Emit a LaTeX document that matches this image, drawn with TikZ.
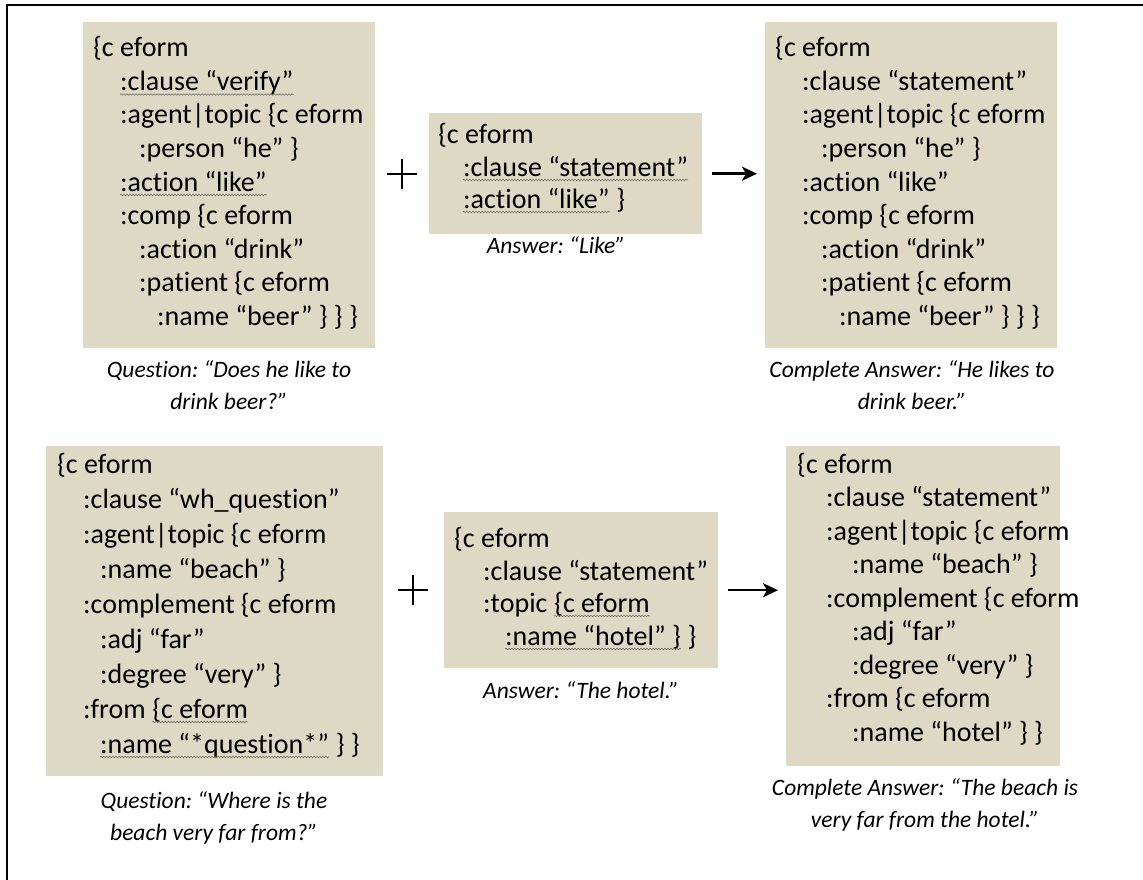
\documentclass[tikz,border=0pt]{standalone}
\usepackage{fontspec}
\setmainfont{Carlito}[Ligatures=NoCommon]
\usetikzlibrary{decorations.pathmorphing, arrows.meta}
\definecolor{boxtan}{RGB}{221,217,196}
\definecolor{squig}{RGB}{110,105,95}
\frenchspacing
\begin{document}
\begin{tikzpicture}[x=1pt, y=-1pt,
  box/.style={fill=boxtan, draw=none, anchor=north west, inner sep=0pt},
  code/.style={anchor=base west, inner sep=0pt, font=\fontsize{28}{33}\selectfont},
  capt/.style={anchor=base, inner sep=0pt, font=\fontsize{23.5}{28}\selectfont\itshape},
  squiggle/.style={draw=squig, line width=0.6pt, decorate,
    decoration={snake, amplitude=0.7pt, segment length=3pt}},
  arr/.style={line width=2.5pt, -{Stealth[length=15pt, width=14pt, inset=4pt]}},
  plusbar/.style={line width=2.5pt}]
\useasboundingbox (0,0) rectangle (1143,880);

% outer frame (top and left edges)
\draw[line width=2pt] (7,880) -- (7,5) -- (1143,5);

% ---------- top row ----------
\node[box, minimum width=292, minimum height=326] (q1) at (83,22) {};
\node[code] (q1k0) at (93,57) {\{c eform};
\node[code] (q1k1) at (120,90.5) {:clause “verify”};
\node[code] (q1k2) at (120,124) {:agent|topic \{c eform};
\node[code] (q1k3) at (139,157.5) {:person “he” \}};
\node[code] (q1k4) at (120,191) {:action “like”};
\node[code] (q1k5) at (120,224.5) {:comp \{c eform};
\node[code] (q1k6) at (139,258) {:action “drink”};
\node[code] (q1k7) at (139,291.5) {:patient \{c eform};
\node[code] (q1k8) at (157,325) {:name “beer” \} \} \}};
\draw[squiggle] ([yshift=-4pt]q1k1.base west) -- ([yshift=-4pt]q1k1.base east);
\draw[squiggle] ([yshift=-4pt]q1k4.base west) -- ([yshift=-4pt]q1k4.base east);
\node[capt] (q1c0) at (229,377) {Question: “Does he like to};
\node[capt] (q1c1) at (229,409) {drink beer?”};

\node[box, minimum width=273, minimum height=121] (a1) at (429,113) {};
\node[code] (a1k0) at (438,144) {\{c eform};
\node[code] (a1k1) at (463,176) {:clause “statement”};
\node[code] (a1k2) at (463,208) {:action “like”};
\node[code] (a1k2b) at (a1k2.base east) {\ \}};
\draw[squiggle] ([yshift=-4pt]a1k1.base west) -- ([yshift=-4pt]a1k1.base east);
\draw[squiggle] ([yshift=-4pt]a1k2.base west) -- ([yshift=-4pt]a1k2.base east);
\node[capt] (a1c0) at (556,253) {Answer: “Like”};

\node[box, minimum width=292, minimum height=326] (r1) at (765,22) {};
\node[code] (r1k0) at (775,57) {\{c eform};
\node[code] (r1k1) at (802,90.5) {:clause “statement”};
\node[code] (r1k2) at (802,124) {:agent|topic \{c eform};
\node[code] (r1k3) at (821,157.5) {:person “he” \}};
\node[code] (r1k4) at (802,191) {:action “like”};
\node[code] (r1k5) at (802,224.5) {:comp \{c eform};
\node[code] (r1k6) at (821,258) {:action “drink”};
\node[code] (r1k7) at (821,291.5) {:patient \{c eform};
\node[code] (r1k8) at (839,325) {:name “beer” \} \} \}};
\node[capt] (r1c0) at (912,377) {Complete Answer: “He likes to};
\node[capt] (r1c1) at (912,409) {drink beer.”};

\coordinate (p1) at (402,174);
\draw[plusbar] ([xshift=-15pt]p1) -- ([xshift=15pt]p1)
               ([yshift=-15pt]p1) -- ([yshift=15pt]p1);
\draw[arr] ([xshift=10pt]a1.east) -- ([xshift=-8pt]r1.west |- a1.east);

% ---------- bottom row ----------
\node[box, minimum width=337, minimum height=330] (q2) at (46,446) {};
\node[code] (q2k0) at (57,473) {\{c eform};
\node[code] (q2k1) at (83,508) {:clause “wh\_question”};
\node[code] (q2k2) at (83,543) {:agent|topic \{c eform};
\node[code] (q2k3) at (100,578) {:name “beach” \}};
\node[code] (q2k4) at (83,613) {:complement \{c eform};
\node[code] (q2k5) at (100,648) {:adj “far”};
\node[code] (q2k6) at (100,683) {:degree “very” \}};
\node[code] (q2k7) at (83,718) {:from\ \null};
\node[code] (q2k7b) at (q2k7.base east) {\{c eform};
\node[code] (q2k8) at (100,753) {:name “*question*”};
\node[code] (q2k8b) at (q2k8.base east) {\ \} \}};
\draw[squiggle] ([yshift=-4pt]q2k7b.base west) -- ([yshift=-4pt]q2k7b.base east);
\draw[squiggle] ([yshift=-4pt]q2k8.base west) -- ([yshift=-4pt]q2k8.base east);
\node[capt] (q2c0) at (214,808) {Question: “Where is the};
\node[capt] (q2c1) at (214,840) {beach very far from?”};

\node[box, minimum width=274, minimum height=156] (a2) at (444,512) {};
\node[code] (a2k0) at (454,547) {\{c eform};
\node[code] (a2k1) at (483,580) {:clause “statement”};
\node[code] (a2k2) at (483,612) {:topic\ \null};
\node[code] (a2k2b) at (a2k2.base east) {\{c eform};
\node[code] (a2k3) at (505,645) {:name “hotel” \}};
\node[code] (a2k3b) at (a2k3.base east) {\ \}};
\draw[squiggle] ([yshift=-4pt]a2k2b.base west) -- ([yshift=-4pt]a2k2b.base east);
\draw[squiggle] ([yshift=-4pt]a2k3.base west) -- ([yshift=-4pt]a2k3.base east);
\node[capt] (a2c0) at (581,698) {Answer: “The hotel.”};

\node[box, minimum width=274, minimum height=320] (r2) at (786,446) {};
\node[code] (r2k0) at (797,473) {\{c eform};
\node[code] (r2k1) at (826,506.5) {:clause “statement”};
\node[code] (r2k2) at (826,540) {:agent|topic \{c eform};
\node[code] (r2k3) at (852,573.5) {:name “beach” \}};
\node[code] (r2k4) at (826,607) {:complement \{c eform};
\node[code] (r2k5) at (852,640.5) {:adj “far”};
\node[code] (r2k6) at (852,674) {:degree “very” \}};
\node[code] (r2k7) at (826,707.5) {:from \{c eform};
\node[code] (r2k8) at (852,741) {:name “hotel” \} \}};
\node[capt] (r2c0) at (925,795) {Complete Answer: “The beach is};
\node[capt] (r2c1) at (925,827) {very far from the hotel.”};

\coordinate (p2) at (413,590);
\draw[plusbar] ([xshift=-15pt]p2) -- ([xshift=15pt]p2)
               ([yshift=-15pt]p2) -- ([yshift=15pt]p2);
\draw[arr] ([xshift=10pt]a2.east) -- ([xshift=-8pt]r2.west |- a2.east);
\end{tikzpicture}
\end{document}
